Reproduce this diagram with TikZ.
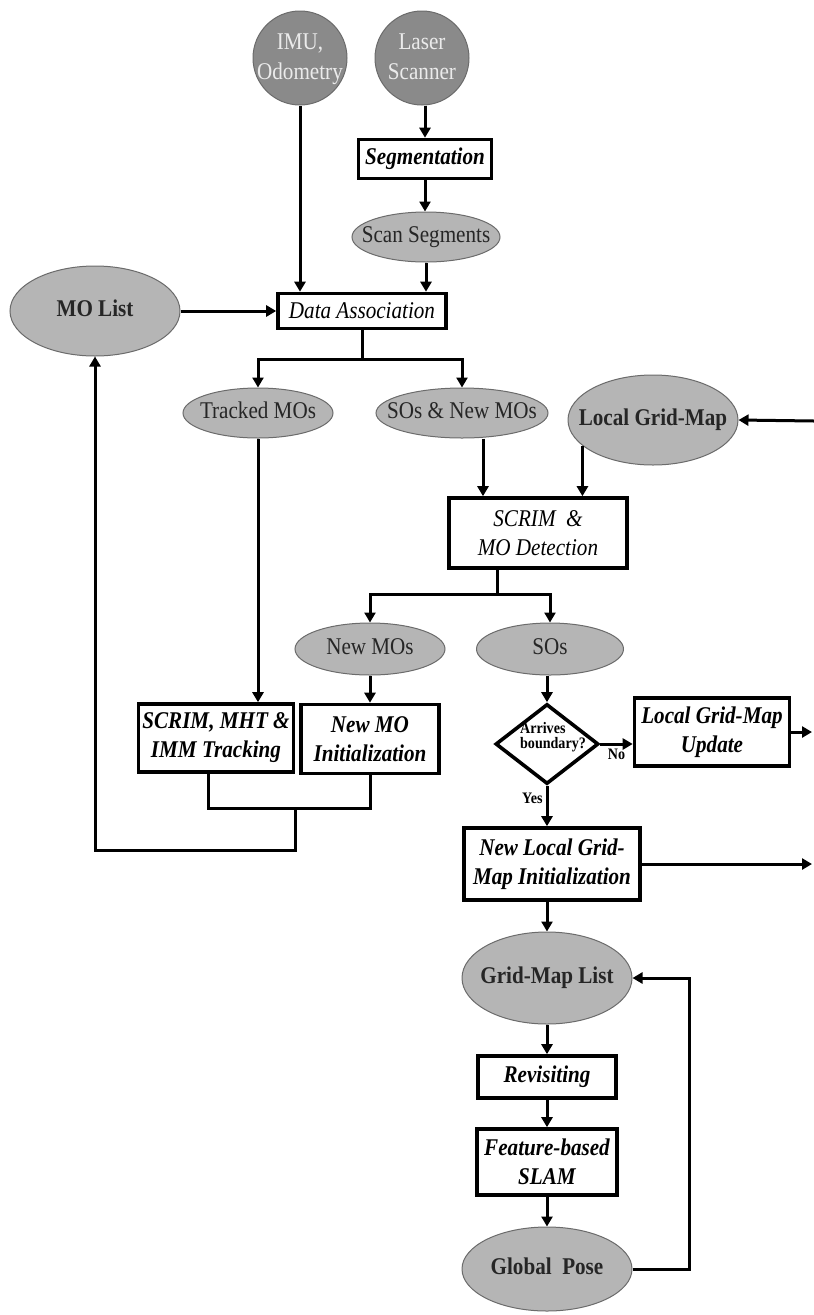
\documentclass[tikz,border=0pt]{standalone}
\usepackage{fontspec}
\setmainfont{Liberation Serif}[FakeStretch=0.88]
\usetikzlibrary{shapes.geometric,arrows.meta,calc}
\definecolor{ellfill}{gray}{0.71}
\definecolor{circfill}{gray}{0.54}
\definecolor{circtext}{gray}{0.92}
\definecolor{ellline}{gray}{0.42}
\newcommand{\zb}[1]{\makebox[0pt]{\begin{tabular}{@{}c@{}}#1\end{tabular}}}
\begin{document}
\begin{tikzpicture}[x=1pt,y=-1pt,
  conn/.style={line width=3pt},
  arr/.style={conn,-{Triangle[length=10pt,width=11pt]}},
  procbox/.style={draw,line width=3.6pt,fill=white,align=center,inner sep=0pt,
    font=\fontsize{24}{29}\selectfont\bfseries\itshape},
  procit/.style={procbox,font=\fontsize{24}{29}\selectfont\itshape},
  ell/.style={ellipse,draw=ellline,line width=1pt,fill=ellfill,inner sep=0pt,
    text=black!85,font=\fontsize{24}{29}\selectfont},
  ellb/.style={ell,font=\fontsize{24}{29}\selectfont\bfseries},
  src/.style={circle,draw=ellline,line width=1pt,fill=circfill,text=circtext,
    minimum size=94pt,inner sep=0pt,font=\fontsize{24}{30}\selectfont},
  decide/.style={diamond,draw,line width=3.6pt,fill=white,inner sep=0pt,
    minimum width=103pt,minimum height=80pt},
  small/.style={font=\fontsize{16}{15}\selectfont\bfseries,inner sep=1pt},
]
\useasboundingbox (0,0) rectangle (814,1315);

% nodes
\node[src] (imu) at (300,58) {\zb{IMU,\\Odometry}};
\node[src] (laser) at (422,58) {\zb{Laser\\Scanner}};
\node[procbox,minimum width=133pt,minimum height=39pt] (seg) at (425,159) {Segmentation};
\node[ell,minimum width=148pt,minimum height=50pt] (scanseg) at (426,237) {\zb{Scan Segments}};
\node[procit,minimum width=168pt,minimum height=35pt] (da) at (362,311) {Data Association};
\node[ellb,minimum width=170pt,minimum height=90pt] (molist) at (95,311) {\zb{MO List}};
\node[ell,minimum width=150pt,minimum height=50pt] (tracked) at (258,413) {\zb{Tracked MOs}};
\node[ell,minimum width=172pt,minimum height=50pt] (sonew) at (462,413) {\zb{SOs \& New MOs}};
\node[ellb,minimum width=170pt,minimum height=90pt] (lgm) at (653,420) {\zb{Local Grid-Map}};
\node[procit,minimum width=178pt,minimum height=70pt] (scrim) at (538,533) {SCRIM~~\&\\MO Detection};
\node[ell,minimum width=150pt,minimum height=52pt] (newmo) at (370,649) {\zb{New MOs}};
\node[ell,minimum width=147pt,minimum height=52pt] (sos) at (550,649) {\zb{SOs}};
\node[procbox,minimum width=155pt,minimum height=68pt] (smit) at (216,738) {SCRIM, MHT \&\\IMM Tracking};
\node[procbox,minimum width=138pt,minimum height=69pt] (nmoi) at (370,739) {New MO\\Initialization};
\node[decide] (diam) at (547,744) {};
\node[small,align=left] (dtext) at (553,737) {Arrives\\boundary?};
\node[procbox,minimum width=155pt,minimum height=68pt] (lgmu) at (712,732) {Local Grid-Map\\Update};
\node[procbox,minimum width=176pt,minimum height=72pt] (nlgmi) at (552,864) {New Local Grid-\\Map Initialization};
\node[ellb,minimum width=170pt,minimum height=92pt] (gml) at (547,978) {\zb{Grid-Map List}};
\node[procbox,minimum width=138pt,minimum height=42pt] (rev) at (547,1077) {Revisiting};
\node[procbox,minimum width=140pt,minimum height=66pt] (fslam) at (547,1162) {Feature-based\\SLAM};
\node[ellb,minimum width=170pt,minimum height=84pt] (gpose) at (547,1269) {\zb{Global~~Pose}};

\coordinate (e0) at (814,421);
\coordinate (e1) at (812,732);
\coordinate (e2) at (812,864);
\coordinate (m1) at (295,807);

% connectors
\draw[arr] (seg.north |- laser.south) -- (seg.north);
\draw[arr] (seg.south) -- (seg.south |- scanseg.north);
\draw[arr] (imu.south) -- (imu.south |- da.north);
\draw[arr] (scanseg.south) -- (scanseg.south |- da.north);
\draw[arr] (molist.east) -- (da.west);
\draw[arr] (da.south) -- ++(0,29) -| (tracked.north);
\draw[arr] (da.south) -- ++(0,29) -| (sonew.north);
\draw[arr] (tracked.south) -- (tracked.south |- smit.north);
\draw[arr] ([xshift=21pt]sonew.south) -- ([xshift=21pt]sonew.south |- scrim.north);
\draw[arr] (lgm.200) -- (lgm.200 |- scrim.north);
\draw[arr] (e0) -- (lgm.east);
\draw[arr] ([xshift=-41pt]scrim.south) -- ++(0,25) -| (newmo.north);
\draw[arr] ([xshift=-41pt]scrim.south) -- ++(0,25) -| (sos.north);
\draw[arr] (newmo.south) -- (newmo.south |- nmoi.north);
\draw[arr] (diam.north |- sos.south) -- (diam.north);
\draw[arr] (diam.east) -- (diam.east -| lgmu.west) node[small,midway,below=3pt] {No};
\draw[arr] (lgmu.east) -- (e1);
\draw[arr] (diam.south) -- (diam.south |- nlgmi.north) node[small,pos=0.3,left=2pt] {Yes};
\draw[arr] (nlgmi.east) -- (e2);
\draw[arr] (nlgmi.south -| gml.north) -- (gml.north);
\draw[arr] (gml.south) -- (rev.north);
\draw[arr] (rev.south) -- (fslam.north);
\draw[arr] (fslam.south) -- (gpose.north);
\draw[arr] (gpose.east) -- ++(57,0) |- (gml.east);
\draw[conn] ([xshift=-8pt]smit.south) -- ++(0,35) -| (nmoi.south);
\draw[arr] (m1) -- ++(0,43) -| (molist.south);
\end{tikzpicture}
\end{document}
